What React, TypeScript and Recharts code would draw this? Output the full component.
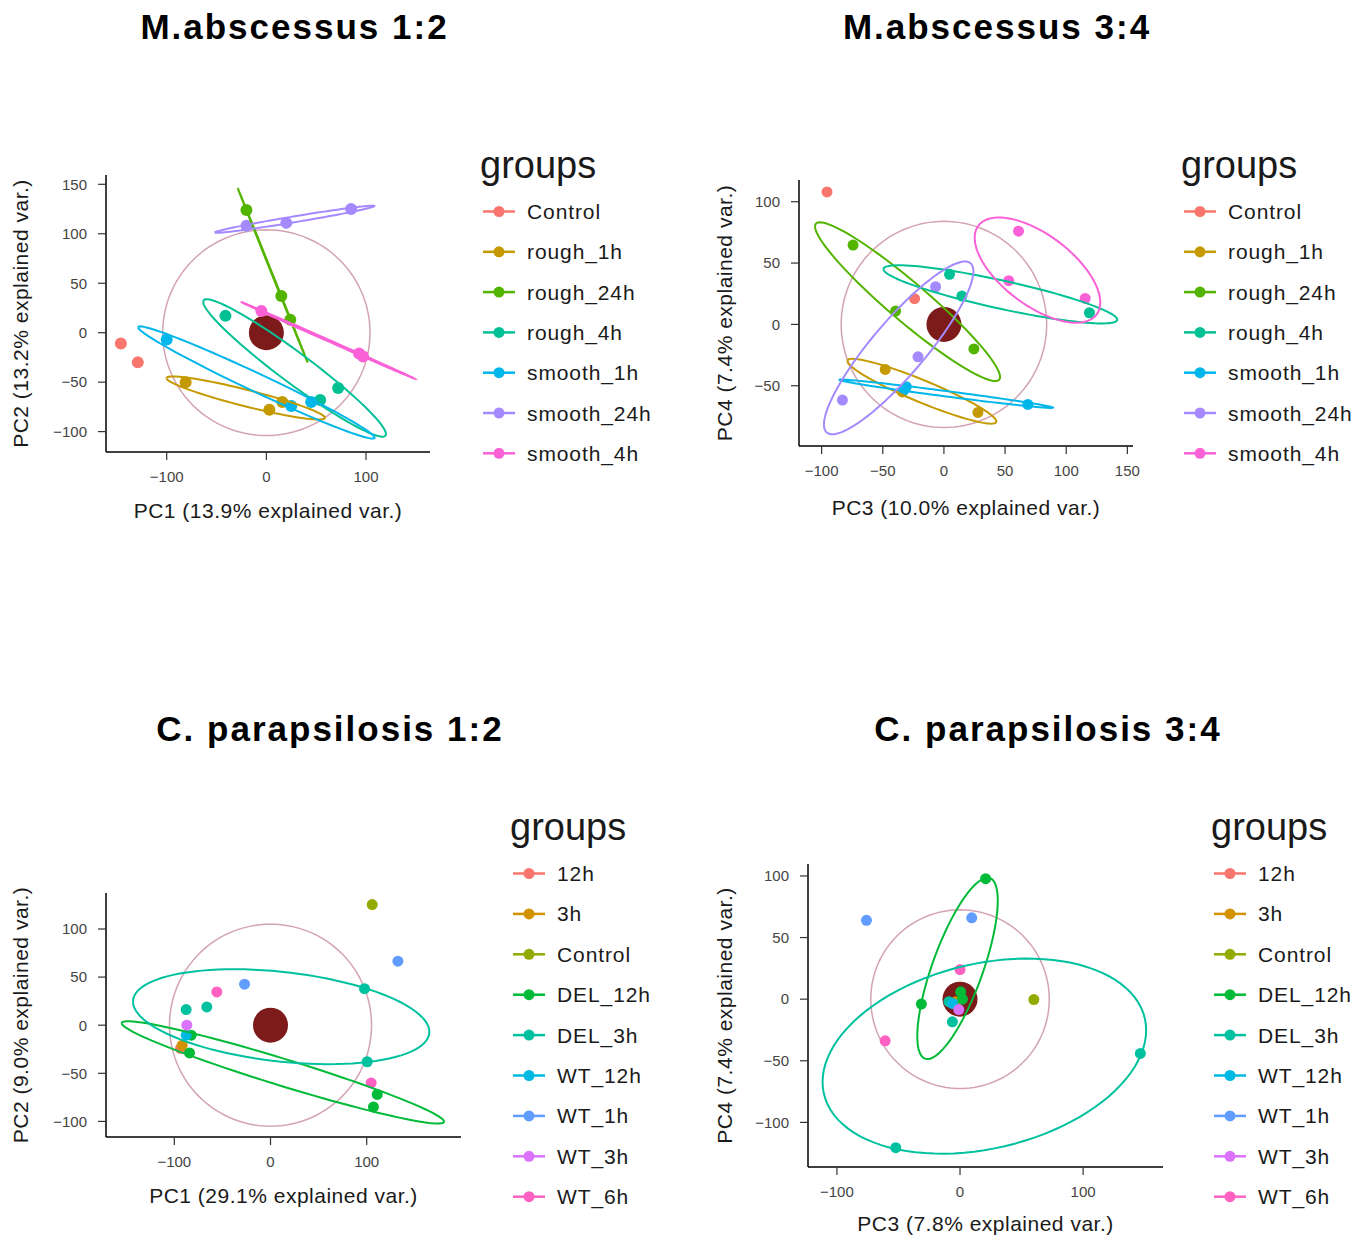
import React from 'react';
import { ScatterChart, Scatter, XAxis, YAxis, Label } from 'recharts';

// group names and ggplot hue colours
const mabsGroups = ['Control', 'rough_1h', 'rough_24h', 'rough_4h', 'smooth_1h', 'smooth_24h', 'smooth_4h'];
const mabsColors = ['#F8766D', '#C49A00', '#53B400', '#00C094', '#00B6EB', '#A58AFF', '#FB61D7'];
const cparGroups = ['12h', '3h', 'Control', 'DEL_12h', 'DEL_3h', 'WT_12h', 'WT_1h', 'WT_3h', 'WT_6h'];
const cparColors = ['#F8766D', '#D39200', '#93AA00', '#00BA38', '#00C19F', '#00B9E3', '#619CFF', '#DB72FB', '#FF61C3'];

// sample scores [group, pcA, pcB]
const mabs12Points: [string, number, number][] = [
  ['Control', -146, -11], ['Control', -129, -30],
  ['rough_1h', -81, -50], ['rough_1h', 3, -78], ['rough_1h', 16, -70],
  ['rough_24h', -20, 124], ['rough_24h', 15, 37], ['rough_24h', 24, 13],
  ['rough_4h', -41, 17], ['rough_4h', 54, -68], ['rough_4h', 72, -56],
  ['smooth_1h', -100, -7], ['smooth_1h', 25, -74], ['smooth_1h', 45, -70],
  ['smooth_24h', -20, 108], ['smooth_24h', 20, 111], ['smooth_24h', 85, 125],
  ['smooth_4h', -5, 22], ['smooth_4h', 93, -21], ['smooth_4h', 97, -24],
];

const mabs34Points: [string, number, number][] = [
  ['Control', -95.6, 108], ['Control', -24, 21],
  ['rough_1h', -48, -36.7], ['rough_1h', -34, -55], ['rough_1h', 27.8, -71.7],
  ['rough_24h', -74.3, 64.7], ['rough_24h', -39.5, 10.9], ['rough_24h', 24.5, -20],
  ['rough_4h', 4.6, 40.8], ['rough_4h', 14.7, 23.1], ['rough_4h', 119, 9.5],
  ['smooth_1h', -30.8, -50.8], ['smooth_1h', -32.7, -53.5], ['smooth_1h', 68.6, -65.2],
  ['smooth_24h', -6.8, 30.7], ['smooth_24h', -21.2, -26.4], ['smooth_24h', -83, -61.7],
  ['smooth_4h', 61, 76], ['smooth_4h', 53, 35.6], ['smooth_4h', 115.5, 21.2],
];

const cpar12Points: [string, number, number][] = [
  ['12h', -93.5, -24],
  ['3h', -91.8, -20.8],
  ['Control', 105.7, 125.4],
  ['DEL_12h', -82.4, -10.4], ['DEL_12h', -84.2, -28.8], ['DEL_12h', 110.9, -72], ['DEL_12h', 107, -85],
  ['DEL_3h', -87.7, 16.3], ['DEL_3h', -66.2, 19], ['DEL_3h', 97.7, 38], ['DEL_3h', 100.5, -38],
  ['WT_12h', -87.6, -10.4],
  ['WT_1h', -27, 42.6], ['WT_1h', 132.4, 66.5],
  ['WT_3h', -87, 0],
  ['WT_6h', -55.8, 34.6], ['WT_6h', 104.6, -60],
];

const cpar34Points: [string, number, number][] = [
  ['12h', -4, -4],
  ['3h', -3.5, -2],
  ['Control', 60, -0.3],
  ['DEL_12h', 20.8, 97.8], ['DEL_12h', -31.4, -4], ['DEL_12h', 0.5, 6], ['DEL_12h', 2, 0],
  ['DEL_3h', 146.5, -44], ['DEL_3h', -52.2, -120.5], ['DEL_3h', -6.2, -18.4], ['DEL_3h', -9, -2],
  ['WT_12h', -6, -3.5],
  ['WT_1h', -76, 64], ['WT_1h', 9.5, 66],
  ['WT_3h', -1, -8.4],
  ['WT_6h', 0, 24], ['WT_6h', -60.8, -33.8],
];

// correlation circle radius per panel
const circleRadii = [104, 84, 105, 72.5];

const ELLIPSE_PROB = 0.68;
const ED = Math.sqrt(-2 * Math.log(1 - ELLIPSE_PROB)); // sqrt(qchisq(p, 2))

// normal-probability ellipse around a group's points, the way ggbiplot does it
function groupEllipse(pts: number[][]) {
  const n = pts.length;
  if (n <= 2) return [];
  const mx = pts.reduce((s, p) => s + p[0], 0) / n;
  const my = pts.reduce((s, p) => s + p[1], 0) / n;
  let sxx = 0, syy = 0, sxy = 0;
  pts.forEach(p => {
    sxx += (p[0] - mx) ** 2;
    syy += (p[1] - my) ** 2;
    sxy += (p[0] - mx) * (p[1] - my);
  });
  sxx /= n - 1; syy /= n - 1; sxy /= n - 1;
  const a = Math.sqrt(sxx);
  const b = sxy / a;
  const c = Math.sqrt(Math.max(syy - b * b, 0));
  const out = [];
  for (let i = 0; i <= 100; i++) {
    const t = -Math.PI + (2 * Math.PI * i) / 100;
    out.push({ x: mx + ED * a * Math.cos(t), y: my + ED * (b * Math.cos(t) + c * Math.sin(t)) });
  }
  return out;
}

function circleOutline(r: number) {
  const out = [];
  for (let i = 0; i <= 120; i++) {
    const t = (2 * Math.PI * i) / 120;
    out.push({ x: r * Math.cos(t), y: r * Math.sin(t) });
  }
  return out;
}

const FONT = '"Liberation Sans", Arial, Helvetica, sans-serif';
const fmt = (v: number) => (v < 0 ? '\u2212' + Math.abs(v) : String(v));
const noMarker = () => <g />;

interface PanelProps {
  plot: { x0: number; y0: number; x1: number; y1: number };
  xDomain: number[];
  yDomain: number[];
  xTicks: number[];
  yTicks: number[];
  points: [string, number, number][];
  groups: string[];
  colors: string[];
  radius: number;
  dotR: number;
  xLabel: string;
  yLabel: string;
  xLabOff: number;
  yLabGap: number;
}

const PcaPanel: React.FC<PanelProps> = ({
  plot, xDomain, yDomain, xTicks, yTicks, points, groups, colors, radius, dotR, xLabel, yLabel, xLabOff, yLabGap
}) => {
  const axisW = 100;
  const axisH = 80;
  const pw = plot.x1 - plot.x0;
  const ph = plot.y1 - plot.y0;
  const byGroup = groups.map(g => points.filter(p => p[0] === g).map(p => [p[1], p[2]]));

  return (
    <div style={{ position: 'absolute', left: plot.x0 - axisW, top: plot.y0 - 10 }}>
      <ScatterChart width={pw + axisW + 10} height={ph + 10 + axisH} margin={{ top: 10, right: 10, bottom: 0, left: 0 }}>
        <XAxis
          type="number"
          dataKey="x"
          domain={xDomain}
          ticks={xTicks}
          allowDataOverflow
          height={axisH}
          tickSize={8}
          tickMargin={11}
          tickFormatter={fmt}
          axisLine={{ stroke: '#000', strokeWidth: 1.5 }}
          tickLine={{ stroke: '#333', strokeWidth: 1.2 }}
          tick={{ fill: '#444', fontSize: 15, fontFamily: FONT }}
        >
          <Label
            content={(p: any) => (
              <text
                x={p.viewBox.x + p.viewBox.width / 2}
                y={p.viewBox.y + xLabOff}
                textAnchor="middle"
                fontSize={21}
                letterSpacing={0.5}
                fontFamily={FONT}
                fill="#1a1a1a"
              >
                {xLabel}
              </text>
            )}
          />
        </XAxis>
        <YAxis
          type="number"
          dataKey="y"
          domain={yDomain}
          ticks={yTicks}
          allowDataOverflow
          width={axisW}
          tickSize={8}
          tickMargin={11}
          tickFormatter={fmt}
          axisLine={{ stroke: '#000', strokeWidth: 1.5 }}
          tickLine={{ stroke: '#333', strokeWidth: 1.2 }}
          tick={{ fill: '#444', fontSize: 15, fontFamily: FONT }}
        >
          <Label
            content={(p: any) => {
              const lx = p.viewBox.x + p.viewBox.width - yLabGap;
              const ly = p.viewBox.y + p.viewBox.height / 2;
              return (
                <text
                  x={lx}
                  y={ly}
                  transform={`rotate(-90, ${lx}, ${ly})`}
                  textAnchor="middle"
                  fontSize={21}
                  letterSpacing={0.5}
                  fontFamily={FONT}
                  fill="#1a1a1a"
                >
                  {yLabel}
                </text>
              );
            }}
          />
        </YAxis>

        <Scatter
          data={circleOutline(radius)}
          line={{ stroke: '#d3a3b3', strokeWidth: 1.5 }}
          lineType="joint"
          shape={noMarker}
          isAnimationActive={false}
        />
        <Scatter
          data={[{ x: 0, y: 0 }]}
          shape={(p: any) => <circle cx={p.cx} cy={p.cy} r={17.5} fill="#7d1a1a" />}
          isAnimationActive={false}
        />
        {groups.map((g, i) => (
          <Scatter
            key={'pt-' + g}
            name={g}
            data={byGroup[i].map(p => ({ x: p[0], y: p[1] }))}
            shape={(p: any) => <circle cx={p.cx} cy={p.cy} r={dotR} fill={colors[i]} />}
            isAnimationActive={false}
          />
        ))}
        {groups.map((g, i) => {
          const ell = groupEllipse(byGroup[i]);
          if (!ell.length) return null;
          return (
            <Scatter
              key={'ell-' + g}
              data={ell}
              line={{ stroke: colors[i], strokeWidth: 2 }}
              lineType="joint"
              shape={noMarker}
              isAnimationActive={false}
            />
          );
        })}
      </ScatterChart>
    </div>
  );
};

const Legend: React.FC<{ x: number; baseline: number; groups: string[]; colors: string[]; step: number }> = ({
  x, baseline, groups, colors, step
}) => (
  <g fontFamily={FONT}>
    <text x={x} y={baseline} fontSize={38} fill="#1a1a1a">groups</text>
    {groups.map((g, i) => {
      const cy = baseline + 33.5 + i * step;
      return (
        <g key={g}>
          <line x1={x + 3} x2={x + 35} y1={cy} y2={cy} stroke={colors[i]} strokeWidth={2.5} />
          <circle cx={x + 19} cy={cy} r={5.5} fill={colors[i]} />
          <text x={x + 47} y={cy + 7.5} fontSize={21} letterSpacing={0.9} fill="#1a1a1a">{g}</text>
        </g>
      );
    })}
  </g>
);

const Title: React.FC<{ cx: number; baseline: number; text: string }> = ({ cx, baseline, text }) => (
  <text x={cx} y={baseline} textAnchor="middle" fontFamily={FONT} fontWeight="bold" fontSize={35} letterSpacing={2} fill="#000">
    {text}
  </text>
);

export default function App() {
  return (
    <div style={{ position: 'absolute', left: 0, top: 0, width: 1366, height: 1240, background: '#fff', fontFamily: FONT }}>
      <PcaPanel
        plot={{ x0: 106, y0: 175, x1: 430, y1: 452 }}
        xDomain={[-160.9, 164.2]}
        yDomain={[-120.6, 159.4]}
        xTicks={[-100, 0, 100]}
        yTicks={[-100, -50, 0, 50, 100, 150]}
        points={mabs12Points}
        groups={mabsGroups}
        colors={mabsColors}
        radius={circleRadii[0]}
        dotR={6}
        xLabel="PC1 (13.9% explained var.)"
        yLabel="PC2 (13.2% explained var.)"
        xLabOff={66}
        yLabGap={78}
      />
      <PcaPanel
        plot={{ x0: 799, y0: 180, x1: 1133, y1: 446 }}
        xDomain={[-118.5, 154.6]}
        yDomain={[-99.1, 117.7]}
        xTicks={[-100, -50, 0, 50, 100, 150]}
        yTicks={[-50, 0, 50, 100]}
        points={mabs34Points}
        groups={mabsGroups}
        colors={mabsColors}
        radius={circleRadii[1]}
        dotR={5.5}
        xLabel="PC3 (10.0% explained var.)"
        yLabel="PC4 (7.4% explained var.)"
        xLabOff={69}
        yLabGap={67}
      />
      <PcaPanel
        plot={{ x0: 106, y0: 893, x1: 461, y1: 1137 }}
        xDomain={[-171, 198]}
        yDomain={[-116.2, 137.4]}
        xTicks={[-100, 0, 100]}
        yTicks={[-100, -50, 0, 50, 100]}
        points={cpar12Points}
        groups={cparGroups}
        colors={cparColors}
        radius={circleRadii[2]}
        dotR={5.5}
        xLabel="PC1 (29.1% explained var.)"
        yLabel="PC2 (9.0% explained var.)"
        xLabOff={66}
        yLabGap={78}
      />
      <PcaPanel
        plot={{ x0: 808, y0: 864, x1: 1163, y1: 1167 }}
        xDomain={[-123.5, 164.9]}
        yDomain={[-136.2, 109.7]}
        xTicks={[-100, 0, 100]}
        yTicks={[-100, -50, 0, 50, 100]}
        points={cpar34Points}
        groups={cparGroups}
        colors={cparColors}
        radius={circleRadii[3]}
        dotR={5.5}
        xLabel="PC3 (7.8% explained var.)"
        yLabel="PC4 (7.4% explained var.)"
        xLabOff={64}
        yLabGap={76}
      />
      <svg width={1366} height={1240} style={{ position: 'absolute', left: 0, top: 0, pointerEvents: 'none' }}>
        <Title cx={294.5} baseline={39} text="M.abscessus 1:2" />
        <Title cx={997} baseline={39} text="M.abscessus 3:4" />
        <Title cx={330} baseline={741} text="C. parapsilosis 1:2" />
        <Title cx={1048} baseline={741} text="C. parapsilosis 3:4" />
        <Legend x={480} baseline={178} groups={mabsGroups} colors={mabsColors} step={40.3} />
        <Legend x={1181} baseline={178} groups={mabsGroups} colors={mabsColors} step={40.3} />
        <Legend x={510} baseline={840} groups={cparGroups} colors={cparColors} step={40.4} />
        <Legend x={1211} baseline={840} groups={cparGroups} colors={cparColors} step={40.4} />
      </svg>
    </div>
  );
}
